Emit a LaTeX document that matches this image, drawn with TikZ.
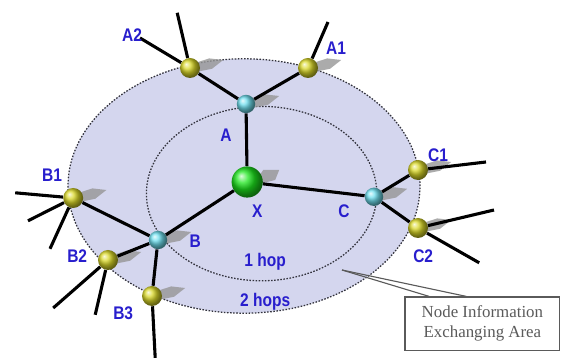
\documentclass[tikz,border=0pt]{standalone}
\usepackage{fontspec}
\setmainfont{Liberation Serif}
\newfontfamily\lblfont[FakeStretch=0.85]{Liberation Sans Bold}
\usepackage{tikz}
\definecolor{hopfill}{RGB}{212,214,238}
\definecolor{hopline}{RGB}{50,50,60}
\definecolor{lblblue}{RGB}{40,30,205}
\definecolor{nbcyan}{RGB}{110,222,238}
\definecolor{nbyellow}{RGB}{218,216,40}
\definecolor{nbgreen}{RGB}{30,230,30}
\definecolor{winggray}{RGB}{150,150,150}
\definecolor{notegray}{RGB}{90,90,90}
\usetikzlibrary{arrows.meta,positioning,calc}
\pgfdeclarelayer{back}
\pgfdeclarelayer{mid}
\pgfsetlayers{back,mid,main}

\begin{document}
\begin{tikzpicture}[font=\small]
    \tikzset{hopnode/.style={circle, inner sep=0pt, minimum size=0.46cm, shading=ball, ball color=nbcyan}}
    \tikzset{farnode/.style={circle, inner sep=0pt, minimum size=0.5cm, shading=ball, ball color=nbyellow}}
    \tikzset{nlabel/.style={font=\lblfont\fontsize{13}{15}\selectfont, text=lblblue, inner sep=1pt}}
    \tikzset{link/.style={line width=2.2pt, black}}
    \tikzset{wing/.style={fill=winggray, opacity=0.8}}
    \tikzset{hopedge/.style={draw=hopline, line width=0.9pt, dash pattern=on 1.1pt off 1.1pt}}

    \useasboundingbox (0,0) rectangle (14.05,8.95);

    % Center and 1-hop nodes
    \node[circle, inner sep=0pt, minimum size=0.78cm, shading=ball, ball color=nbgreen] (x) at (6.18,4.40) {};
    \node[hopnode] (a) at (6.15,6.35) {};
    \node[hopnode] (b) at (3.95,2.95) {};
    \node[hopnode] (c) at (9.35,4.03) {};

    % 2-hop nodes
    \node[farnode] (a1) at (7.70,7.25) {};
    \node[farnode] (a2) at (4.75,7.25) {};
    \node[farnode] (b1) at (1.83,4.00) {};
    \node[farnode] (b2) at (2.70,2.45) {};
    \node[farnode] (b3) at (3.80,1.55) {};
    \node[farnode] (c1) at (10.45,4.70) {};
    \node[farnode] (c2) at (10.45,3.25) {};

    % Loose link ends
    \coordinate (a1s) at (8.20,8.40);
    \coordinate (a2s1) at (4.43,8.63);
    \coordinate (a2s2) at (3.50,8.00);
    \coordinate (b1s1) at (0.38,4.13);
    \coordinate (b1s2) at (0.70,3.43);
    \coordinate (b1s3) at (1.25,2.73);
    \coordinate (b2s1) at (1.33,1.25);
    \coordinate (b2s2) at (2.38,1.08);
    \coordinate (b3s) at (3.88,0.0);
    \coordinate (c1s) at (12.15,4.90);
    \coordinate (c2s1) at (12.35,3.70);
    \coordinate (c2s2) at (11.98,2.38);

    % Hop areas
    \begin{pgfonlayer}{back}
      \draw[fill=hopfill, hopedge] (6.10,4.30) ellipse (4.40 and 3.18);
      \draw[hopedge] (6.54,4.11) ellipse (2.88 and 2.18);
    \end{pgfonlayer}

    % Shadows and links
    \begin{pgfonlayer}{mid}
      \foreach \n in {a, b, c, a1, a2, b1, b2, b3, c1, c2}{
        \fill[wing] ($(\n.center)+(0.05,-0.12)$) -- ++(0.5,0.1) -- ++(0.28,0.22)
          -- ++(-0.35,0.04) -- ($(\n.center)+(0.05,0.1)$) -- cycle;
      }
      \fill[wing] ($(x.center)+(0.3,-0.05)$) -- ++(0.4,0.1) -- ++(0.1,0.25)
        -- ++(-0.4,0) -- ($(x.center)+(0.3,0.15)$) -- cycle;
      \foreach \n in {a, b, c}{
        \draw[link] (x) -- (\n);
      }
      \draw[link] (a) -- (a1);
      \draw[link] (a) -- (a2);
      \draw[link] (b) -- (b1);
      \draw[link] (b) -- (b2);
      \draw[link] (b) -- (b3);
      \draw[link] (c) -- (c1);
      \draw[link] (c) -- (c2);
      \foreach \n/\s in {a1/a1s, a2/a2s1, a2/a2s2, b1/b1s1, b1/b1s2, b1/b1s3,
                         b2/b2s1, b2/b2s2, b3/b3s, c1/c1s, c2/c2s1, c2/c2s2}{
        \draw[link] (\n) -- (\s);
      }
    \end{pgfonlayer}

    % Labels
    \node[nlabel] (lx) at (6.43,3.68) {X};
    \node[nlabel] (la) at (5.65,5.58) {A};
    \node[nlabel] (lb) at (4.88,2.93) {B};
    \node[nlabel] (lc) at (8.60,3.68) {C};
    \node[nlabel] (la1) at (8.40,7.75) {A1};
    \node[nlabel] (la2) at (3.30,8.08) {A2};
    \node[nlabel] (lb1) at (1.30,4.58) {B1};
    \node[nlabel] (lb2) at (1.93,2.55) {B2};
    \node[nlabel] (lb3) at (3.08,1.13) {B3};
    \node[nlabel] (lc1) at (10.95,5.08) {C1};
    \node[nlabel] (lc2) at (10.58,2.55) {C2};
    \node[nlabel] (hop1) at (6.63,2.40) {1 hop};
    \node[nlabel] (hop2) at (6.63,1.40) {2 hops};

    % Callout
    \node[rectangle, draw=notegray, line width=0.8pt, minimum width=3.87cm, minimum height=1.33cm,
          text=notegray, align=center, font=\fontsize{12}{14}\selectfont] (note) at (12.06,0.86)
      {Node Information\\Exchanging Area};
    \coordinate (tip) at (8.55,2.20);
    \draw[notegray, thick] (tip) -- ($(note.north west)+(0.62,0)$);
    \draw[notegray, thick] (tip) -- ($(note.north west)+(1.55,0)$);
\end{tikzpicture}
\end{document}
